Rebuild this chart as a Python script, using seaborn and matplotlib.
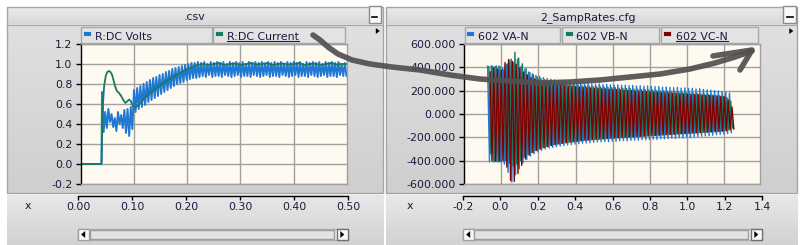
import numpy as np
import matplotlib
matplotlib.use("Agg")
import matplotlib.pyplot as plt
from matplotlib.colors import LinearSegmentedColormap
from matplotlib.patches import Rectangle, Polygon
import seaborn as sns

# ---------------- data: left chart (.csv) ----------------
LEFT_TITLE = ".csv"
LEFT_SERIES = ["R:DC Volts", "R:DC Current"]
LEFT_YTICKS = [-0.2, 0.0, 0.2, 0.4, 0.6, 0.8, 1.0, 1.2]
LEFT_XTICKS = [0.0, 0.1, 0.2, 0.3, 0.4, 0.5]
LEFT_XLABELS = ["0.00", "0.10", "0.20", "0.30", "0.40", "0.50"]

# DC volts: flat start, then per-ripple maxima / minima (sampled every 0.006 s from 0.040 s)
VOLTS_PRE_T = [0.0, 0.039]
VOLTS_PRE_V = [0.0, 0.0]
VOLTS_T0 = 0.040
VOLTS_STEP = 0.006
VOLTS_HI = [0.72, 0.52, 0.55, 0.50, 0.46, 0.52, 0.49, 0.54, 0.55, 0.57,
            0.74, 0.76, 0.78, 0.80, 0.82, 0.84, 0.86, 0.87, 0.89, 0.90,
            0.92, 0.93, 0.95, 0.96, 0.97, 0.98, 0.99, 1.00, 1.01, 1.01,
            1.02, 1.01, 1.02, 1.00, 1.02, 1.01, 1.02, 1.01, 1.02, 1.00,
            1.02, 1.01, 1.02, 1.01, 1.02, 1.00, 1.02, 1.01, 1.02, 1.01,
            1.02, 1.00, 1.02, 1.01, 1.02, 1.01, 1.02, 1.00, 1.02, 1.01,
            1.02, 1.01, 1.02, 1.00, 1.02, 1.01, 1.02, 1.01, 1.02, 1.00,
            1.02, 1.01, 1.02, 1.01, 1.02, 1.00, 1.01]
VOLTS_LO = [0.32, 0.36, 0.42, 0.37, 0.33, 0.40, 0.36, 0.31, 0.28, 0.35,
            0.52, 0.55, 0.57, 0.59, 0.62, 0.64, 0.66, 0.68, 0.70, 0.72,
            0.74, 0.76, 0.78, 0.80, 0.81, 0.82, 0.84, 0.85, 0.86, 0.86,
            0.87, 0.88, 0.87, 0.89, 0.87, 0.88, 0.88, 0.87, 0.89, 0.88,
            0.87, 0.88, 0.89, 0.87, 0.88, 0.88, 0.87, 0.89, 0.88, 0.87,
            0.88, 0.89, 0.87, 0.88, 0.88, 0.87, 0.89, 0.88, 0.87, 0.88,
            0.89, 0.87, 0.88, 0.88, 0.87, 0.89, 0.88, 0.87, 0.88, 0.89,
            0.87, 0.88, 0.88, 0.87, 0.89, 0.88, 0.88]

CURRENT_T = [0.000, 0.039, 0.0405, 0.042, 0.044, 0.047, 0.050, 0.053, 0.056, 0.059,
             0.062, 0.065, 0.068, 0.072, 0.076, 0.080, 0.084, 0.088, 0.091, 0.094,
             0.097, 0.100, 0.104, 0.110, 0.120, 0.130, 0.140, 0.150, 0.160, 0.170,
             0.180, 0.190, 0.200, 0.210, 0.220, 0.230, 0.240, 0.250, 0.260, 0.270,
             0.280, 0.290, 0.300, 0.310, 0.320, 0.330, 0.340, 0.350, 0.360, 0.370,
             0.380, 0.390, 0.400, 0.410, 0.420, 0.430, 0.440, 0.450, 0.460, 0.470,
             0.480, 0.490, 0.500]
CURRENT_V = [0.00, 0.00, 0.35, 0.62, 0.78, 0.88, 0.92, 0.93, 0.92, 0.89,
             0.83, 0.77, 0.73, 0.71, 0.68, 0.64, 0.61, 0.63, 0.645, 0.63,
             0.59, 0.565, 0.57, 0.60, 0.66, 0.71, 0.75, 0.79, 0.83, 0.86,
             0.89, 0.92, 0.95, 0.97, 0.99, 1.00, 0.99, 1.00, 1.01, 0.99,
             1.00, 1.005, 0.99, 1.00, 1.01, 0.995, 1.00, 1.01, 0.99, 1.00,
             1.005, 0.995, 1.00, 1.01, 0.99, 1.00, 1.005, 0.99, 1.00, 1.01,
             0.995, 1.00, 1.00]

# ---------------- data: right chart (2_SampRates.cfg) ----------------
RIGHT_TITLE = "2_SampRates.cfg"
RIGHT_SERIES = ["602 VA-N", "602 VB-N", "602 VC-N"]
RIGHT_YTICKS = [-600, -400, -200, 0, 200, 400, 600]
RIGHT_XTICKS = [-0.2, 0.0, 0.2, 0.4, 0.6, 0.8, 1.0, 1.2, 1.4]
RIGHT_XLABELS = ["-0.2", "0.0", "0.2", "0.4", "0.6", "0.8", "1.0", "1.2", "1.4"]
CYCLE_STEP = 0.02
VA_T0, VB_T0, VC_T0 = -0.073, -0.0663, -0.0597

VA_HI = [410, 414, 409, 412, 395, 425, 455, 440, 470, 410,
         385, 360, 345, 330, 322, 312, 305, 298, 292, 288,
         282, 279, 276, 270, 268, 266, 262, 265, 258, 256,
         258, 252, 254, 250, 248, 251, 246, 247, 243, 245,
         240, 242, 238, 240, 236, 234, 236, 230, 232, 228,
         226, 228, 222, 224, 219, 220, 214, 216, 210, 207,
         204, 200, 197, 192, 188, 180]
VA_LO = [-410, -412, -408, -411, -430, -500, -585, -520, -470, -420,
         -390, -360, -340, -325, -312, -300, -292, -286, -280, -274,
         -270, -265, -262, -258, -255, -250, -248, -246, -243, -240,
         -238, -236, -238, -232, -234, -230, -228, -230, -226, -224,
         -225, -220, -222, -218, -216, -218, -212, -214, -210, -208,
         -210, -204, -206, -200, -202, -196, -194, -190, -188, -185,
         -182, -178, -175, -172, -168, -160]
VB_HI = [405, 410, 412, 408, 380, 430, 470, 530, 480, 430,
         390, 355, 335, 318, 305, 296, 288, 280, 274, 268,
         262, 258, 254, 250, 248, 244, 242, 238, 236, 234,
         232, 230, 228, 226, 225, 222, 221, 218, 217, 214,
         213, 210, 209, 206, 205, 202, 200, 198, 196, 193,
         191, 188, 186, 184, 181, 178, 176, 172, 170, 166,
         163, 160, 156, 152, 140, 110]
VB_LO = [-340, -408, -412, -409, -400, -420, -445, -430, -400, -370,
         -350, -330, -312, -298, -288, -278, -270, -264, -258, -252,
         -248, -243, -240, -236, -232, -228, -225, -222, -220, -217,
         -214, -212, -210, -207, -205, -203, -200, -198, -196, -194,
         -192, -190, -188, -186, -184, -182, -180, -178, -176, -174,
         -172, -170, -168, -166, -164, -162, -160, -158, -156, -154,
         -152, -150, -146, -140, -132, -120]
VC_HI = [360, 395, 385, 375, 440, 468, 450, 425, 395, 360,
         335, 312, 300, 290, 280, 272, 265, 259, 254, 249,
         245, 241, 238, 234, 231, 228, 226, 223, 221, 219,
         216, 214, 212, 210, 208, 206, 204, 202, 200, 198,
         196, 194, 192, 190, 188, 186, 184, 182, 180, 178,
         176, 174, 172, 170, 168, 166, 164, 162, 160, 158,
         156, 154, 150, 146, 120, 60]
VC_LO = [-400, -405, -402, -398, -455, -570, -578, -510, -440, -385,
         -352, -330, -312, -300, -290, -280, -271, -263, -257, -251,
         -246, -241, -237, -233, -229, -226, -223, -220, -218, -215,
         -213, -210, -208, -206, -204, -202, -200, -198, -196, -194,
         -192, -190, -188, -186, -184, -182, -180, -178, -176, -174,
         -172, -170, -168, -166, -164, -162, -160, -158, -156, -154,
         -152, -150, -148, -144, -138, -128]

# hand-drawn annotation stroke (pixel coordinates, decoration only)
ARROW_PATH = [(313, 35), (320, 40), (328, 47), (338, 54), (352, 60), (370, 64), (392, 67),
              (420, 70), (450, 75), (480, 79), (510, 81), (540, 83), (570, 82), (600, 80),
              (630, 77), (660, 74), (690, 69), (715, 63), (735, 57), (752, 51)]
ARROW_HEAD = [(713, 56), (752, 50), (740, 70)]

# ---------------- style ----------------
BLUE, GREEN, RED = "#1F78D6", "#187A62", "#800000"
TXT = "#1A1A40"
PLOT_BG = "#FFFAEF"
GRID = "#A0A0A0"
FS = 7.9
W, H = 805, 245

plt.rcParams["font.family"] = ["DejaVu Sans"]
plt.rcParams["axes.unicode_minus"] = False

fig = plt.figure(figsize=(W / 100, H / 100), dpi=100)
fig.patch.set_facecolor("white")


def frac(x0, y0, x1, y1):
    return [x0 / W, 1 - y1 / H, (x1 - x0) / W, (y1 - y0) / H]


bg = fig.add_axes([0, 0, 1, 1], zorder=0)
bg.axis("off")


def grad(x0, y0, x1, y1, c0, c1, z=1):
    cm = LinearSegmentedColormap.from_list("g", [c0, c1])
    bg.imshow(np.linspace(0, 1, 64).reshape(-1, 1), cmap=cm, extent=(x0, x1, y1, y0),
              aspect="auto", interpolation="bilinear", zorder=z)


def rect(x0, y0, x1, y1, fc, ec, lw=1.0, z=2):
    bg.add_patch(Rectangle((x0, y0), x1 - x0, y1 - y0, facecolor=fc, edgecolor=ec, lw=lw, zorder=z))


def tri(pts, z=4):
    bg.add_patch(Polygon(pts, closed=True, facecolor="black", edgecolor="black", lw=0.3, zorder=z))


# panels
for (px0, px1) in [(7, 383), (386, 797)]:
    grad(px0, 7, px1, 25, "#EBEBEB", "#D6D6D6")
    grad(px0, 25, px1, 193, "#E0E0E0", "#CFCFCF")
    grad(px0, 195, px1, 245, "#E8E8E8", "#D2D2D2")
    rect(px0, 7, px1, 193, "none", "#A5A5A5", z=3)
    bg.plot([px0, px1], [25, 25], color="#A5A5A5", lw=0.8, zorder=3)

bg.set_xlim(0, W)
bg.set_ylim(H, 0)

# titles and minimise buttons
bg.text(195, 20, LEFT_TITLE, ha="center", va="baseline", fontsize=FS, color=TXT, zorder=5)
bg.text(588, 20, RIGHT_TITLE, ha="center", va="baseline", fontsize=FS, color=TXT, zorder=5)
for (b0, b1) in [(368.5, 380.5), (783, 796)]:
    rect(b0, 6.5, b1, 23, "#F8F8F8", "#8C8C8C", z=4)
    bg.plot([b0 + 3.5, b1 - 3.5], [17, 17], color="black", lw=1.2, zorder=5)

# small panel arrows
tri([(376, 28.5), (376, 33.5), (379.5, 31)])
tri([(789.5, 28.5), (789.5, 33.5), (793, 31)])

# legend boxes
legend_specs = [
    ((81, 212), 84, 95, LEFT_SERIES[0], BLUE, False),
    ((213, 345), 216, 227, LEFT_SERIES[1], GREEN, True),
    ((465, 560), 467, 478, RIGHT_SERIES[0], BLUE, False),
    ((562, 659), 566, 576, RIGHT_SERIES[1], GREEN, False),
    ((661, 758), 664, 676, RIGHT_SERIES[2], RED, True),
]
leg_texts = []
for (bx0, bx1), sx, tx, label, col, under in legend_specs:
    rect(bx0, 27, bx1, 43, "#E3E3E3", "#A8A8A8", z=3)
    rect(sx, 32, sx + 6.5, 36.5, col, col, lw=0.1, z=4)
    t = bg.text(tx, 39.5, label, ha="left", va="baseline", fontsize=FS, color=TXT, zorder=5)
    leg_texts.append((t, under))

# scrollbars
for (s0, s1, th0, th1) in [(78, 348, 90, 334), (463, 762, 474, 748)]:
    rect(s0, 229, s1, 240, "#ECECEC", "#B0B0B0", z=3)
    rect(s0, 229, s0 + 11, 240, "#FAFAFA", "#A0A0A0", z=4)
    rect(th0, 230, th1, 239, "#E2E2E2", "#9C9C9C", z=4)
    rect(s1 - 11, 229, s1, 240, "#FAFAFA", "#707070", z=4)
    tri([(s0 + 7, 231.5), (s0 + 7, 237.5), (s0 + 3.5, 234.5)], z=5)
    tri([(s1 - 7.5, 231.5), (s1 - 7.5, 237.5), (s1 - 4, 234.5)], z=5)

bg.text(28, 208.5, "x", ha="center", va="baseline", fontsize=FS, color=TXT, zorder=5)
bg.text(410, 208.5, "x", ha="center", va="baseline", fontsize=FS, color=TXT, zorder=5)


def zigzag(t0, step, hi, lo):
    n = len(hi)
    t_hi = t0 + step * np.arange(n)
    x = np.empty(2 * n)
    y = np.empty(2 * n)
    x[0::2] = t_hi
    x[1::2] = t_hi + step / 2
    y[0::2] = hi
    y[1::2] = lo
    return x, y


def setup(ax, xlim, ylim, yticks, ylabels, xgrid):
    ax.set_facecolor(PLOT_BG)
    ax.set_xlim(*xlim)
    ax.set_ylim(*ylim)
    ax.set_yticks(yticks)
    ax.set_yticklabels(ylabels)
    ax.set_xticks(xgrid)
    ax.tick_params(axis="x", length=0, labelbottom=False)
    ax.tick_params(axis="y", length=3.6, width=1, color="black", pad=2.5,
                   labelcolor=TXT, labelsize=FS)
    ax.grid(True, color=GRID, lw=1)
    ax.set_axisbelow(True)
    for s in ["top", "right", "bottom"]:
        ax.spines[s].set_color(GRID)
        ax.spines[s].set_linewidth(1)
    ax.spines["left"].set_color("black")
    ax.spines["left"].set_linewidth(1)
    ax.set_xlabel("")
    ax.set_ylabel("")


# ---------------- left plot ----------------
axL = fig.add_axes(frac(80.7, 44, 347, 184), zorder=2)
vx, vy = zigzag(VOLTS_T0, VOLTS_STEP, VOLTS_HI, VOLTS_LO)
vx = np.concatenate([VOLTS_PRE_T, vx])
vy = np.concatenate([VOLTS_PRE_V, vy])
sns.lineplot(x=vx, y=vy, sort=False, estimator=None, color=BLUE, lw=1.4, ax=axL, legend=False)
sns.lineplot(x=CURRENT_T, y=CURRENT_V, sort=False, estimator=None, color=GREEN, lw=1.3,
             ax=axL, legend=False)
setup(axL, (0, 0.5), (-0.2, 1.2), LEFT_YTICKS, [f"{v:.1f}" for v in LEFT_YTICKS],
      [0.1, 0.2, 0.3, 0.4])

# ---------------- right plot ----------------
axR = fig.add_axes(frac(464, 44, 760, 184), zorder=2)
for t0, hi, lo, col in [(VA_T0, VA_HI, VA_LO, BLUE), (VB_T0, VB_HI, VB_LO, GREEN),
                        (VC_T0, VC_HI, VC_LO, RED)]:
    x, y = zigzag(t0, CYCLE_STEP, hi, lo)
    sns.lineplot(x=x, y=y, sort=False, estimator=None, color=col, lw=1.0, ax=axR, legend=False)
setup(axR, (-0.2, 1.391), (-600, 600), RIGHT_YTICKS, [f"{v:.3f}" for v in RIGHT_YTICKS],
      [0.0, 0.2, 0.4, 0.6, 0.8, 1.0, 1.2])


# ---------------- x-axis strips ----------------
def strip(x0, x1, xlim, ticks, labels):
    ax = fig.add_axes(frac(x0, 194, x1, 195.5), zorder=2)
    ax.set_xlim(*xlim)
    ax.set_ylim(0, 1)
    ax.patch.set_visible(False)
    for s in ["top", "left", "right"]:
        ax.spines[s].set_visible(False)
    ax.spines["bottom"].set_color("black")
    ax.spines["bottom"].set_linewidth(1)
    ax.set_yticks([])
    ax.set_xticks(ticks)
    ax.set_xticklabels(labels)
    ax.tick_params(axis="x", direction="out", length=2.8, width=1, color="black", pad=1.8,
                   labelcolor=TXT, labelsize=FS)


strip(78.3, 348.3, (0, 0.5), LEFT_XTICKS, LEFT_XLABELS)
strip(462.7, 762.3, (-0.2, 1.4), RIGHT_XTICKS, RIGHT_XLABELS)

# underline focused legend labels
fig.canvas.draw()
for t, under in leg_texts:
    if under:
        bb = t.get_window_extent()
        bg.plot([bb.x0, bb.x1], [41.0, 41.0], color=TXT, lw=0.8, zorder=5)

# ---------------- hand-drawn arrow overlay ----------------
ov = fig.add_axes([0, 0, 1, 1], zorder=10)
ov.patch.set_alpha(0)
ov.axis("off")
ov.set_xlim(0, W)
ov.set_ylim(H, 0)
ax_, ay_ = zip(*ARROW_PATH)
ov.plot(ax_, ay_, color="#505050", lw=4, solid_capstyle="round", solid_joinstyle="round", alpha=0.92)
hx, hy = zip(*ARROW_HEAD)
ov.plot(hx, hy, color="#505050", lw=4, solid_capstyle="round", solid_joinstyle="round", alpha=0.92)
ov.set_xlim(0, W)
ov.set_ylim(H, 0)

fig.savefig("out.png", dpi=100)
